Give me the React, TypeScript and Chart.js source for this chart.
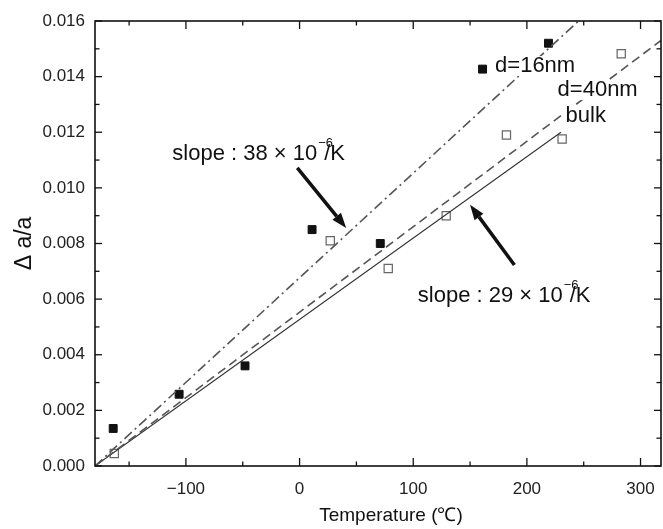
import React, { useEffect, useRef } from "react";
import { Chart, registerables } from "chart.js";

Chart.register(...registerables);

// ---- axis ticks ----
const xMajorTicks = [-100, 0, 100, 200, 300];
const xMinorTicks = [-150, -50, 50, 150, 250];
const yMajorTicks = [0, 0.002, 0.004, 0.006, 0.008, 0.01, 0.012, 0.014, 0.016];
const yMinorTicks = [0.001, 0.003, 0.005, 0.007, 0.009, 0.011, 0.013, 0.015];
const xRange = [-180, 318];
const yRange = [0, 0.016];

// ---- measured data ----
const d16Temps = [-164, -106, -48, 11, 71, 161, 219];
const d16Values = [0.00135, 0.00258, 0.0036, 0.0085, 0.008, 0.01427, 0.0152];
const d40Temps = [-163, 27, 78, 129, 182, 231, 283];
const d40Values = [0.00045, 0.0081, 0.0071, 0.009, 0.0119, 0.01176, 0.01482];

// ---- fitted lines (endpoints) ----
const d16LineTemps = [-180, 250];
const d16LineValues = [0, 0.01617];
const d40LineTemps = [-180, 318];
const d40LineValues = [0, 0.0153];
const bulkLineTemps = [-180, 230];
const bulkLineValues = [0, 0.012];

// ---- annotations ----
const slopeTexts = ["slope : 38 × 10", "slope : 29 × 10"];
const slopeSup = "−6";
const slopeTail = "/K";
const slopeTemps = [-112, 104];
const slopeValues = [0.01122, 0.00611];

const seriesLabels = ["d=16nm", "d=40nm", "bulk"];
const seriesLabelTemps = [172, 227, 234];
const seriesLabelValues = [0.01438, 0.01352, 0.01258];

const arrowFromTemps = [-2, 189];
const arrowFromValues = [0.01072, 0.00723];
const arrowToTemps = [41, 150];
const arrowToValues = [0.00856, 0.00939];

const xTitle = "Temperature (℃)";
const yTitle = "Δ a/a";

const pts = (xs: number[], ys: number[]) => xs.map((x, i) => ({ x, y: ys[i] }));

const framePlugin = {
  id: "frame",
  afterDraw(chart: any) {
    const { ctx, chartArea } = chart;
    const xs = chart.scales.x;
    const ys = chart.scales.y;
    const { left, right, top, bottom } = chartArea;
    ctx.save();
    ctx.strokeStyle = "#111";
    ctx.lineWidth = 1.6;
    ctx.strokeRect(left, top, right - left, bottom - top);
    ctx.lineWidth = 1.3;
    const tick = (x1: number, y1: number, x2: number, y2: number) => {
      ctx.beginPath();
      ctx.moveTo(x1, y1);
      ctx.lineTo(x2, y2);
      ctx.stroke();
    };
    xMajorTicks.forEach((v) => {
      const x = xs.getPixelForValue(v);
      tick(x, bottom, x, bottom - 8);
      tick(x, top, x, top + 8);
    });
    xMinorTicks.forEach((v) => {
      const x = xs.getPixelForValue(v);
      tick(x, bottom, x, bottom - 4.5);
      tick(x, top, x, top + 4.5);
    });
    yMajorTicks.forEach((v) => {
      const y = ys.getPixelForValue(v);
      tick(left, y, left + 7, y);
      tick(right, y, right - 7, y);
    });
    yMinorTicks.forEach((v) => {
      const y = ys.getPixelForValue(v);
      tick(left, y, left + 4.5, y);
      tick(right, y, right - 4.5, y);
    });
    // x axis title (the original plot is wider than the visible crop)
    ctx.fillStyle = "#111";
    ctx.font = "19px 'Liberation Sans'";
    ctx.textAlign = "center";
    ctx.textBaseline = "middle";
    ctx.fillText(xTitle, left + 296, bottom + 50);
    ctx.restore();
  },
};

const annotationPlugin = {
  id: "annotations",
  afterDatasetsDraw(chart: any) {
    const ctx = chart.ctx;
    const xs = chart.scales.x;
    const ys = chart.scales.y;
    ctx.save();
    // arrows
    arrowFromTemps.forEach((_, i) => {
      const x1 = xs.getPixelForValue(arrowFromTemps[i]);
      const y1 = ys.getPixelForValue(arrowFromValues[i]);
      const x2 = xs.getPixelForValue(arrowToTemps[i]);
      const y2 = ys.getPixelForValue(arrowToValues[i]);
      const ang = Math.atan2(y2 - y1, x2 - x1);
      const headLen = 15;
      const headW = 5.5;
      const bx = x2 - headLen * Math.cos(ang);
      const by = y2 - headLen * Math.sin(ang);
      ctx.strokeStyle = "#111";
      ctx.lineWidth = 3.5;
      ctx.beginPath();
      ctx.moveTo(x1, y1);
      ctx.lineTo(bx, by);
      ctx.stroke();
      ctx.fillStyle = "#111";
      ctx.beginPath();
      ctx.moveTo(x2, y2);
      ctx.lineTo(bx + headW * Math.sin(ang), by - headW * Math.cos(ang));
      ctx.lineTo(bx - headW * Math.sin(ang), by + headW * Math.cos(ang));
      ctx.closePath();
      ctx.fill();
    });
    // series labels with white background
    ctx.textBaseline = "middle";
    ctx.textAlign = "left";
    ctx.font = "22px 'Liberation Sans'";
    seriesLabels.forEach((txt, i) => {
      const x = xs.getPixelForValue(seriesLabelTemps[i]);
      const y = ys.getPixelForValue(seriesLabelValues[i]);
      const w = ctx.measureText(txt).width;
      ctx.fillStyle = "#fff";
      ctx.fillRect(x - 2, y - 10, w + 4, 20);
      ctx.fillStyle = "#111";
      ctx.fillText(txt, x, y);
    });
    // slope labels
    slopeTexts.forEach((txt, i) => {
      const x = xs.getPixelForValue(slopeTemps[i]);
      const y = ys.getPixelForValue(slopeValues[i]);
      ctx.font = "22px 'Liberation Sans'";
      ctx.fillStyle = "#111";
      ctx.fillText(txt, x, y);
      const w = ctx.measureText(txt).width;
      ctx.fillText(slopeTail, x + w + 7, y);
      ctx.font = "13px 'Liberation Sans'";
      ctx.fillText(slopeSup, x + w + 1, y - 11);
    });
    ctx.restore();
  },
};

export default function App() {
  const canvasRef = useRef<HTMLCanvasElement | null>(null);

  useEffect(() => {
    if (!canvasRef.current) return;
    const chart = new Chart(canvasRef.current, {
      type: "scatter",
      data: {
        datasets: [
          {
            type: "line",
            label: "d=16nm fit",
            data: pts(d16LineTemps, d16LineValues),
            borderColor: "#555",
            borderWidth: 1.6,
            borderDash: [10, 4, 2, 4],
            pointRadius: 0,
            fill: false,
          },
          {
            type: "line",
            label: "d=40nm fit",
            data: pts(d40LineTemps, d40LineValues),
            borderColor: "#555",
            borderWidth: 1.6,
            borderDash: [9, 5],
            pointRadius: 0,
            fill: false,
          },
          {
            type: "line",
            label: "bulk",
            data: pts(bulkLineTemps, bulkLineValues),
            borderColor: "#333",
            borderWidth: 1.1,
            pointRadius: 0,
            fill: false,
          },
          {
            label: "d=16nm",
            data: pts(d16Temps, d16Values),
            pointStyle: "rect",
            pointRadius: 5.6,
            backgroundColor: "#111",
            borderColor: "#111",
            borderWidth: 1,
          },
          {
            label: "d=40nm",
            data: pts(d40Temps, d40Values),
            pointStyle: "rect",
            pointRadius: 5.8,
            backgroundColor: "#fff",
            borderColor: "#666",
            borderWidth: 1.2,
          },
        ],
      },
      options: {
        responsive: false,
        animation: false,
        devicePixelRatio: 1,
        layout: { padding: { top: 21, left: 0, right: 0, bottom: 0 } },
        plugins: {
          legend: { display: false },
          tooltip: { enabled: false },
        },
        scales: {
          x: {
            type: "linear",
            min: xRange[0],
            max: xRange[1],
            grid: { display: false, drawTicks: false },
            border: { display: false },
            afterBuildTicks: (s: any) => {
              s.ticks = xMajorTicks.map((v) => ({ value: v }));
            },
            afterFit: (s: any) => {
              s.height = 63;
            },
            ticks: {
              padding: 13,
              color: "#222",
              font: { family: "'Liberation Sans'", size: 17 },
              callback: (v: any) => (Number(v) < 0 ? "−" + Math.abs(Number(v)) : String(v)),
              maxRotation: 0,
            },
            title: { display: false },
          },
          y: {
            type: "linear",
            min: yRange[0],
            max: yRange[1],
            grid: { display: false, drawTicks: false },
            border: { display: false },
            afterBuildTicks: (s: any) => {
              s.ticks = yMajorTicks.map((v) => ({ value: v }));
            },
            afterFit: (s: any) => {
              s.width = 95;
            },
            ticks: {
              padding: 10,
              color: "#222",
              font: { family: "'Liberation Sans'", size: 17 },
              callback: (v: any) => Number(v).toFixed(3),
            },
            title: {
              display: true,
              text: yTitle,
              color: "#111",
              font: { family: "'Liberation Sans'", size: 23 },
              padding: { top: 11, bottom: 0 },
            },
          },
        },
      },
      plugins: [framePlugin, annotationPlugin],
    });
    return () => chart.destroy();
  }, []);

  return (
    <div
      style={{
        position: "fixed",
        left: 0,
        top: 0,
        width: 663,
        height: 529,
        overflow: "hidden",
        background: "#fff",
      }}
    >
      <canvas ref={canvasRef} width={668} height={529} style={{ width: 668, height: 529, display: "block" }} />
    </div>
  );
}
